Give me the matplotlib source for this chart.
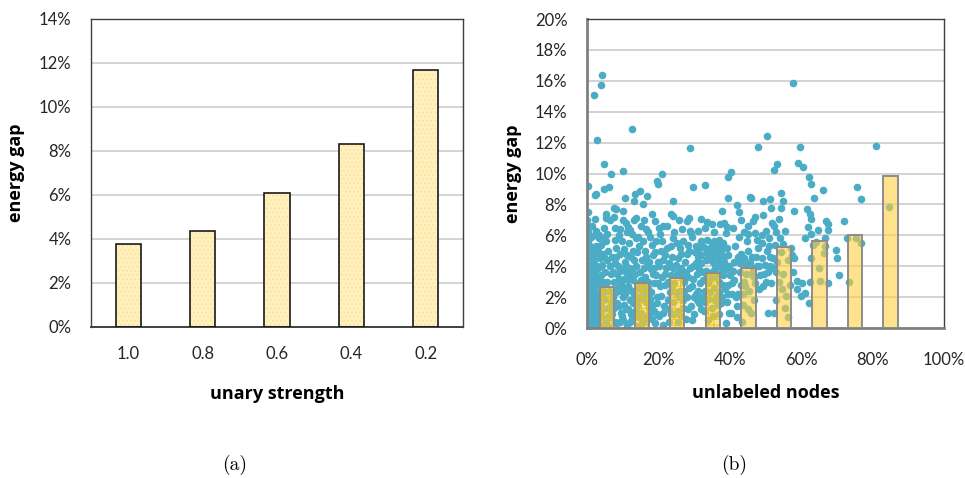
import numpy as np
import matplotlib.pyplot as plt
from matplotlib.ticker import FuncFormatter, MultipleLocator

# ---- data: (a) energy gap vs unary strength ----
unary_labels = ["1.0", "0.8", "0.6", "0.4", "0.2"]
unary_gap = [3.75, 4.35, 6.1, 8.3, 11.7]

# ---- data: (b) energy gap vs unlabeled nodes ----
bin_centers = [5.5, 15.4, 25.3, 35.2, 45.2, 55.1, 65.1, 75.0, 85.0]
bin_gap = [2.65, 2.91, 3.21, 3.56, 3.88, 5.24, 5.62, 6.01, 9.87]

# individual runs (x = unlabeled %, y = gap %)
runs_sparse = [
    (4.2, 16.4), (4.0, 15.75), (2.05, 15.1), (2.8, 12.2), (12.6, 12.85),
    (28.9, 11.65), (50.5, 12.4), (57.8, 15.85), (59.7, 11.7), (80.9, 11.8),
    (47.8, 11.7), (4.85, 10.6), (10.1, 10.15), (20.9, 10.0), (40.2, 10.1),
    (39.4, 9.8), (53.3, 10.6), (52.5, 10.2), (59.0, 10.65), (60.6, 10.4),
    (62.3, 9.8), (62.6, 9.35), (66.1, 8.95), (75.5, 9.1), (76.6, 8.35),
    (0.2, 9.2), (4.7, 9.0), (6.2, 9.15), (6.8, 9.95), (2.6, 8.7),
    (2.1, 8.6), (10.6, 8.4), (13.4, 8.65), (14.9, 8.9), (13.3, 8.2),
    (16.7, 8.55), (15.6, 8.05), (19.8, 9.3), (19.6, 9.5), (24.0, 8.2),
    (29.8, 9.1), (33.0, 9.25), (39.5, 8.4), (42.0, 7.95), (45.9, 8.4),
    (45.6, 8.5), (49.4, 8.2), (51.3, 8.35), (54.4, 8.75), (55.0, 8.25),
    (54.4, 7.75), (51.6, 7.8), (57.9, 7.55), (61.5, 7.7), (63.6, 8.4),
    (62.4, 7.35), (72.0, 6.9), (66.9, 6.95), (67.6, 6.7), (67.6, 6.35),
    (84.6, 7.85),
]

runs_mid = [
    (2.1, 7.05), (2.4, 6.3), (3.3, 6.0), (4.8, 6.5), (5.2, 7.1), (5.2, 7.35),
    (7.6, 7.8), (8.2, 7.7), (7.5, 7.2), (10.1, 7.55), (10.1, 7.0), (9.3, 6.4),
    (11.5, 6.55), (12.1, 6.35), (13.3, 7.0), (13.8, 7.15), (15.9, 7.0),
    (18.3, 7.35), (20.3, 6.45), (21.3, 6.6), (23.6, 7.4), (24.2, 7.25),
    (25.8, 7.0), (28.5, 7.1), (28.8, 6.3), (29.0, 6.15), (32.0, 7.05),
    (33.6, 6.85), (34.9, 6.7), (37.3, 6.7), (37.9, 7.55), (39.2, 6.55),
    (39.0, 6.15), (42.7, 7.5), (46.4, 6.9), (49.4, 7.3), (51.8, 6.8),
    (52.4, 6.6), (53.7, 7.05), (53.0, 6.2), (47.1, 6.15), (45.0, 6.1),
    (55.0, 5.45), (62.6, 7.05), (62.0, 6.55), (64.8, 6.35), (61.1, 5.8),
    (62.6, 6.1), (64.0, 5.55), (66.6, 5.8), (69.6, 5.05), (69.9, 4.55),
    (70.5, 3.45), (67.6, 2.9), (62.4, 2.95), (60.1, 2.9), (62.3, 1.6),
    (58.7, 2.5), (58.7, 3.05), (57.8, 3.6), (58.0, 4.55), (57.3, 4.7),
    (59.9, 2.1), (61.0, 2.25), (73.4, 2.95), (72.9, 5.8), (76.6, 5.5),
    (75.4, 5.85), (66.3, 4.85), (62.6, 4.55), (63.3, 5.4), (65.2, 3.05),
    (66.6, 5.3), (65.1, 3.9),
    (5.5, 6.1), (6.5, 7.0), (7.7, 6.5), (9.0, 6.0), (11.0, 6.8), (12.6, 6.1),
    (14.3, 5.9), (15.2, 6.6), (17.0, 6.2), (19.0, 6.9), (20.5, 6.1),
    (22.5, 6.6), (24.5, 6.2), (26.5, 6.4), (28.0, 6.9), (31.0, 6.3),
    (33.0, 6.5), (35.5, 6.2), (38.5, 6.8), (41.0, 6.5), (43.0, 7.0),
    (45.0, 6.6), (47.0, 7.2), (50.0, 6.3), (51.0, 5.8), (55.5, 6.3),
]

runs_dense = [
    # 0-5% unlabeled
    (0.1, 0.2), (0.3, 0.6), (0.5, 0.1), (0.7, 1.0), (0.2, 1.4), (0.9, 0.4),
    (1.2, 0.0), (1.4, 0.8), (0.4, 1.9), (1.0, 1.6), (1.6, 1.2), (0.2, 2.4),
    (0.8, 2.2), (1.3, 2.7), (1.9, 0.3), (2.2, 1.0), (2.4, 1.9), (0.5, 3.0),
    (1.1, 3.4), (1.7, 3.1), (2.0, 2.4), (2.6, 0.5), (2.9, 1.4), (0.3, 3.8),
    (0.9, 4.1), (1.5, 3.8), (2.3, 3.5), (2.7, 2.8), (3.1, 0.9), (3.3, 2.1),
    (3.6, 0.2), (3.8, 1.6), (0.1, 4.6), (0.7, 4.9), (1.4, 4.5), (2.0, 4.2),
    (2.6, 4.7), (3.0, 3.9), (3.4, 3.2), (3.9, 2.6), (4.1, 0.7), (4.4, 1.9),
    (4.6, 3.0), (4.2, 4.1), (3.6, 4.5), (1.8, 5.1), (2.6, 5.3), (0.4, 5.6),
    (1.2, 5.9), (3.2, 5.0), (4.8, 4.6), (4.9, 3.6), (4.7, 2.3), (0.2, 6.2),
    (0.6, 6.6), (3.8, 5.4), (4.5, 5.8), (1.6, 0.6), (2.1, 3.0), (0.6, 2.8),
    (0.0, 0.5), (0.0, 1.1), (0.0, 1.8), (0.0, 2.6), (0.0, 3.3), (0.0, 4.0),
    (0.0, 4.9), (0.6, 0.0), (1.8, 1.7), (2.8, 2.2), (3.5, 1.1), (4.3, 0.1),
    (4.0, 3.4), (1.3, 4.2), (2.4, 4.0), (3.0, 4.6), (0.9, 5.3), (4.2, 2.6),
    (3.4, 5.8), (2.2, 6.0), (1.5, 6.6), (0.1, 7.0), (0.3, 7.5), (1.0, 2.0),
    (2.9, 3.3), (0.4, 0.3), (1.7, 0.9), (2.4, 0.2), (3.2, 1.7), (4.6, 1.2),
    (1.2, 2.3), (2.2, 2.0), (3.6, 2.9), (4.9, 0.4), (0.8, 3.6), (2.6, 3.8),
    (3.9, 4.0), (4.4, 4.8), (1.9, 4.6), (0.5, 5.1),
    # 5-20%
    (5.3, 0.4), (5.8, 1.3), (6.2, 2.4), (6.6, 3.5), (5.5, 4.4), (7.0, 0.9),
    (7.3, 2.0), (7.6, 3.0), (7.9, 4.2), (8.3, 0.3), (8.5, 1.6), (8.8, 2.6),
    (9.1, 3.7), (9.3, 4.8), (9.7, 0.8), (10.0, 2.0), (10.3, 3.2), (10.6, 4.3),
    (10.9, 1.2), (11.2, 0.2), (11.5, 2.7), (11.8, 3.9), (12.1, 1.8), (12.4, 4.6),
    (12.7, 0.6), (13.0, 3.1), (13.3, 2.2), (13.6, 4.0), (13.9, 1.4), (14.2, 0.1),
    (14.5, 2.9), (14.8, 3.6), (15.1, 1.0), (15.4, 4.4), (15.7, 2.3), (16.0, 0.5),
    (16.3, 3.3), (16.6, 1.7), (16.9, 4.1), (17.2, 2.6), (17.5, 0.9), (17.8, 3.8),
    (18.1, 1.5), (18.4, 4.7), (18.7, 2.9), (19.0, 0.3), (19.3, 3.4), (19.6, 2.0),
    (19.9, 4.3), (6.0, 5.0), (8.0, 5.2), (10.5, 5.1), (12.8, 5.0), (14.6, 5.3),
    (16.2, 5.0), (18.3, 5.4), (5.6, 3.0), (7.0, 4.6), (9.5, 1.0), (11.0, 4.0),
    (12.0, 3.4), (13.8, 0.9), (15.9, 1.9), (17.0, 3.0), (18.8, 1.1), (6.8, 1.6),
    (8.6, 4.0), (10.2, 2.6), (11.6, 1.2), (13.2, 4.4), (14.7, 2.0), (16.5, 4.6),
    (18.0, 2.3), (19.5, 1.6), (9.9, 3.8), (12.5, 2.4),
    (5.0, 1.9), (5.9, 0.1), (6.3, 4.0), (6.4, 0.7), (7.2, 3.6), (7.5, 1.3),
    (8.1, 2.3), (8.2, 4.6), (8.9, 3.2), (9.2, 0.4), (9.6, 2.4), (10.4, 1.5),
    (10.8, 3.6), (11.3, 4.7), (11.9, 2.5), (12.3, 0.9), (12.9, 1.6), (13.5, 3.5),
    (14.0, 4.9), (14.3, 1.8), (15.0, 3.1), (15.5, 0.3), (16.1, 2.7), (16.8, 0.8),
    (17.3, 4.3), (17.7, 1.9), (18.5, 3.5), (19.1, 4.9), (19.8, 2.9), (7.8, 5.7),
    (9.8, 5.6), (11.8, 5.5), (13.6, 5.8), (15.8, 5.6), (17.6, 5.9), (19.4, 5.6),
    (5.3, 5.6), (11.1, 6.2), (16.4, 6.4),
    (6.1, 0.8), (6.9, 2.3), (7.7, 0.4), (8.4, 3.5), (9.0, 1.4), (9.4, 2.9),
    (10.1, 0.5), (10.7, 2.2), (11.4, 3.2), (12.0, 0.4), (12.6, 3.8), (13.4, 1.1),
    (13.9, 2.5), (14.6, 0.7), (15.3, 2.0), (15.9, 3.9), (16.7, 2.2), (17.4, 1.3),
    (18.2, 0.6), (18.9, 3.9), (19.7, 0.9),
    # 20-40%
    (20.3, 0.8), (20.6, 2.1), (20.9, 3.3), (21.2, 4.4), (21.6, 1.4), (21.9, 2.8),
    (22.2, 3.9), (22.5, 5.2), (22.9, 0.4), (23.2, 2.3), (23.5, 3.4), (23.8, 4.6),
    (24.1, 1.7), (24.5, 2.9), (24.8, 4.1), (25.1, 5.5), (25.4, 1.1), (25.8, 3.6),
    (26.1, 2.4), (26.4, 4.8), (26.8, 1.8), (27.1, 3.0), (27.4, 4.3), (27.8, 0.6),
    (28.1, 2.0), (28.4, 3.3), (28.7, 5.0), (29.1, 1.4), (29.4, 2.7), (29.7, 4.0),
    (30.0, 0.9), (30.4, 2.2), (30.7, 3.5), (31.0, 4.6), (31.3, 1.6), (31.7, 2.9),
    (32.0, 4.2), (32.3, 5.3), (32.7, 1.1), (33.0, 2.4), (33.3, 3.7), (33.6, 4.9),
    (34.0, 1.9), (34.3, 3.1), (34.6, 4.4), (34.9, 5.4), (35.3, 0.8), (35.6, 2.6),
    (35.9, 3.9), (36.2, 4.7), (36.6, 1.5), (36.9, 3.0), (37.2, 4.2), (37.5, 5.1),
    (37.9, 2.0), (38.2, 3.4), (38.5, 4.6), (38.8, 0.3), (39.2, 1.7), (39.5, 2.8),
    (39.8, 4.0), (33.8, 4.5), (34.5, 4.8), (35.2, 4.3), (36.0, 5.0), (36.8, 4.6),
    (37.6, 4.9), (38.4, 4.3), (33.0, 5.2), (32.0, 4.7), (31.2, 5.0), (39.2, 5.2),
    (35.5, 5.6), (30.5, 5.3), (21.0, 5.6), (24.0, 5.8), (27.0, 5.6), (29.5, 5.9),
    (23.0, 1.2), (26.2, 0.8), (33.8, 0.5), (37.0, 0.9),
    (20.1, 4.0), (20.8, 5.0), (21.4, 0.2), (21.8, 3.5), (22.6, 1.8), (23.1, 4.2),
    (23.9, 2.7), (24.4, 0.9), (24.9, 3.4), (25.6, 4.5), (25.9, 2.0), (26.7, 3.3),
    (27.3, 2.4), (27.9, 4.8), (28.4, 1.2), (28.9, 3.9), (29.6, 3.2), (30.2, 4.9),
    (30.8, 1.8), (31.5, 3.8), (32.1, 2.0), (32.6, 3.1), (33.3, 4.4), (33.9, 2.9),
    (34.3, 5.1), (34.9, 3.6), (35.4, 4.7), (35.8, 1.8), (36.4, 3.5), (36.5, 5.3),
    (37.0, 2.3), (37.7, 3.6), (38.1, 5.5), (38.6, 2.5), (39.0, 3.8), (39.6, 4.7),
    (40.0, 3.4), (33.5, 5.7), (31.8, 5.6), (36.9, 5.7), (26.0, 5.2), (23.5, 5.3),
    (28.2, 5.4),
    (20.4, 2.7), (21.2, 1.0), (21.9, 4.7), (22.7, 3.0), (23.5, 0.9), (24.2, 3.9),
    (25.0, 2.3), (25.6, 0.4), (26.3, 3.9), (27.0, 1.3), (27.6, 3.6), (28.6, 2.6),
    (29.3, 0.5), (29.9, 2.0), (30.6, 4.2), (31.2, 2.4), (31.9, 1.2), (32.5, 3.6),
    (33.1, 1.7), (33.7, 3.4), (34.4, 2.3), (35.0, 1.3), (35.7, 3.3), (36.3, 2.1),
    (36.9, 4.0), (37.5, 1.6), (38.1, 2.8), (38.7, 4.0), (39.4, 2.2), (39.9, 1.0),
    # 40-57%
    (40.3, 1.0), (40.7, 2.9), (41.1, 4.3), (41.5, 5.3), (42.0, 0.7), (42.4, 2.2),
    (42.8, 3.6), (43.2, 4.8), (43.7, 1.5), (44.1, 3.0), (44.5, 4.1), (44.9, 5.6),
    (45.4, 2.4), (45.8, 3.5), (46.2, 4.6), (46.7, 1.8), (47.1, 2.9), (47.6, 4.0),
    (48.0, 5.2), (48.5, 3.4), (48.9, 4.5), (49.4, 2.7), (49.8, 4.1), (50.3, 5.0),
    (50.7, 3.6), (51.2, 4.6), (51.6, 2.9), (52.1, 3.9), (52.6, 5.4), (53.2, 4.3),
    (53.8, 3.0), (54.4, 4.9), (55.0, 3.5), (55.6, 2.1), (56.2, 4.4), (45.0, 1.2),
    (46.0, 1.0), (50.6, 1.0), (52.5, 1.0), (56.2, 0.7), (47.5, 5.7), (49.0, 6.0),
    (42.5, 5.9), (44.0, 6.2), (53.0, 1.8), (54.5, 2.5), (55.5, 1.3), (43.5, 0.4),
    (40.9, 3.7), (41.8, 2.0), (42.2, 4.6), (43.0, 2.8), (43.9, 4.5), (44.6, 3.5),
    (45.2, 5.0), (46.5, 3.9), (47.3, 4.6), (48.2, 2.5), (49.1, 5.5), (50.0, 3.0),
    (51.0, 5.3), (52.0, 4.5), (54.0, 5.8), (57.0, 5.2), (56.8, 2.8),
    (40.5, 2.2), (41.3, 3.1), (42.0, 1.4), (42.9, 4.2), (43.6, 2.2), (44.3, 2.7),
    (45.6, 4.3), (46.9, 3.3), (48.3, 4.0), (49.6, 3.5), (51.3, 4.0), (52.8, 3.6),
]

pct = FuncFormatter(lambda v, pos: f"{v:.0f}%")
tick_font = "Lato"
blue = "#4BACC6"
plt.rcParams["hatch.linewidth"] = 0.6

fig = plt.figure(figsize=(9.65, 4.78), dpi=100)

# ---- (a) ----
ax1 = fig.add_axes([0.0943, 0.3159, 0.3855, 0.6444])
xpos = np.arange(len(unary_labels))
ax1.bar(xpos, unary_gap, width=0.34, color="#FFF0C0", hatch="....",
        edgecolor="#FFE08A", linewidth=0, zorder=2)
ax1.bar(xpos, unary_gap, width=0.34, fill=False, edgecolor="#1A1A1A",
        linewidth=1.2, zorder=3)
ax1.set_xlim(-0.5, len(unary_labels) - 0.5)
ax1.set_ylim(0, 14)
ax1.yaxis.set_major_locator(MultipleLocator(2))
ax1.yaxis.set_major_formatter(pct)
ax1.set_xticks(xpos)
ax1.set_xticklabels(unary_labels)
ax1.grid(axis="y", color="#D0D0D0", linewidth=1.3, zorder=0)
ax1.set_axisbelow(True)
ax1.tick_params(length=0, labelsize=12, pad=14, labelcolor="#262626")
for lab in ax1.get_xticklabels() + ax1.get_yticklabels():
    lab.set_fontfamily(tick_font)
for s in ax1.spines.values():
    s.set_color("#404040")
    s.set_linewidth(1.0)
ax1.spines["bottom"].set_linewidth(1.4)
ax1.set_xlabel("unary strength", fontsize=13, fontweight="bold",
               fontfamily="Open Sans", labelpad=16)
ax1.set_ylabel("energy gap", fontsize=13, fontweight="bold",
               fontfamily="Open Sans", labelpad=10)

# ---- (b) ----
ax2 = fig.add_axes([0.6083, 0.3138, 0.3700, 0.6464])
pts = np.array(runs_dense + runs_mid + runs_sparse)
ax2.scatter(pts[:, 0], pts[:, 1], s=30, color=blue, linewidths=0, zorder=2)
ax2.bar(bin_centers, bin_gap, width=4.0, color="#FFCF40", alpha=0.6,
        edgecolor="none", zorder=3)
ax2.bar(bin_centers[:4], bin_gap[:4], width=4.0, fill=False, hatch="+++",
        edgecolor="#F2C200", linewidth=0, zorder=4)
ax2.bar(bin_centers, bin_gap, width=4.0, fill=False, edgecolor="#8C8C8C",
        linewidth=1.4, zorder=5)
ax2.set_xlim(0, 100)
ax2.set_ylim(0, 20)
ax2.xaxis.set_major_locator(MultipleLocator(20))
ax2.yaxis.set_major_locator(MultipleLocator(2))
ax2.xaxis.set_major_formatter(pct)
ax2.yaxis.set_major_formatter(pct)
ax2.grid(axis="y", color="#D0D0D0", linewidth=1.3, zorder=0)
ax2.set_axisbelow(True)
ax2.tick_params(length=0, labelsize=12, labelcolor="#262626")
ax2.tick_params(axis="x", pad=17)
ax2.tick_params(axis="y", pad=14)
for lab in ax2.get_xticklabels() + ax2.get_yticklabels():
    lab.set_fontfamily(tick_font)
for s in ax2.spines.values():
    s.set_color("#404040")
    s.set_linewidth(1.0)
ax2.spines["left"].set_color("#808080")
ax2.spines["left"].set_linewidth(2.0)
ax2.spines["bottom"].set_color("#808080")
ax2.spines["bottom"].set_linewidth(2.0)
ax2.set_xlabel("unlabeled nodes", fontsize=13, fontweight="bold",
               fontfamily="Open Sans", labelpad=12)
ax2.set_ylabel("energy gap", fontsize=13, fontweight="bold",
               fontfamily="Open Sans", labelpad=9)

# captions
fig.text(235 / 965, 1 - 465 / 478, "(a)", ha="center", va="center",
         fontsize=14, fontfamily="cmr10")
fig.text(734 / 965, 1 - 465 / 478, "(b)", ha="center", va="center",
         fontsize=14, fontfamily="cmr10")

fig.savefig("out.png", dpi=100)
